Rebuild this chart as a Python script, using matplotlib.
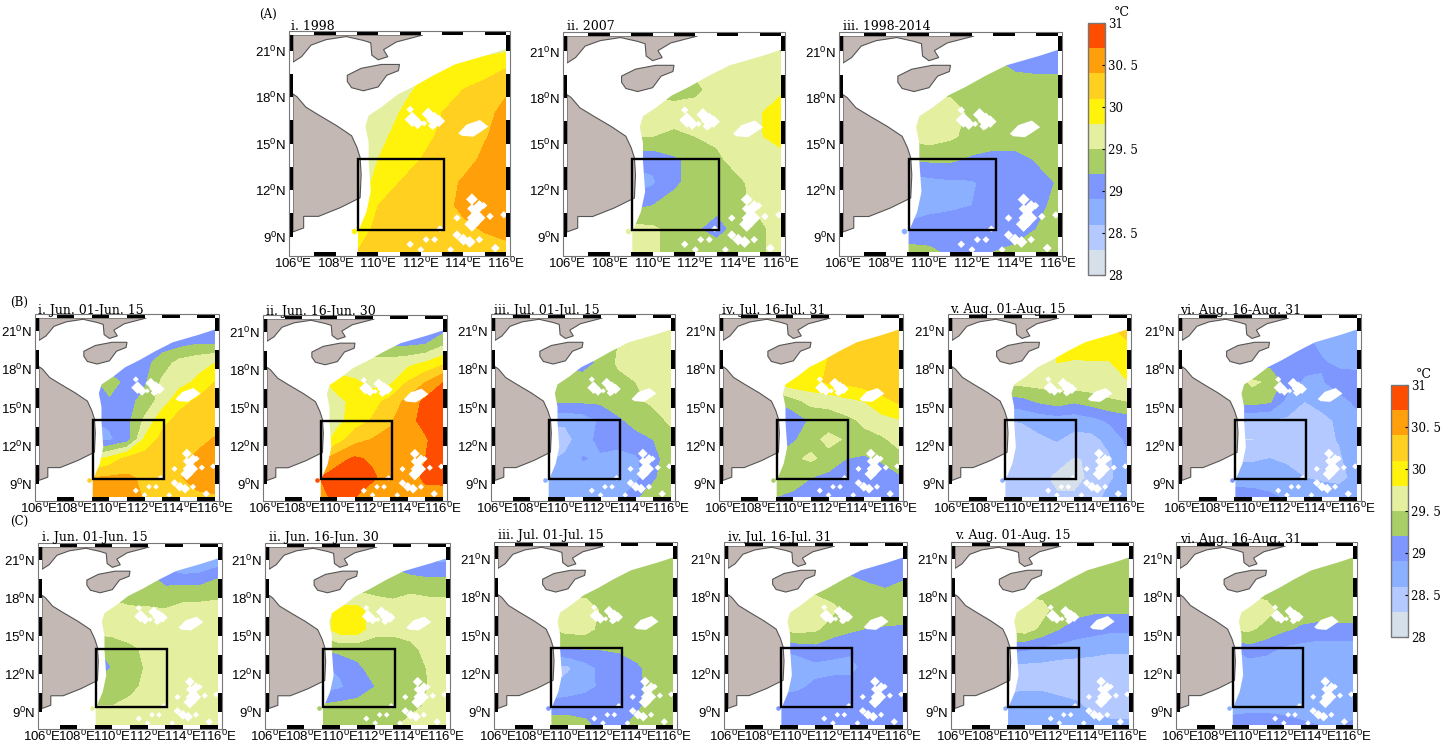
import numpy as np
import matplotlib
matplotlib.use("Agg")
import matplotlib.pyplot as plt
from matplotlib.colors import ListedColormap, BoundaryNorm
from matplotlib.cm import ScalarMappable
from matplotlib.patches import Polygon, Rectangle

W, H = 1451, 744

# sst grid, rows run north to south
grid_lon = [109, 110, 111, 112, 113, 114, 115, 116]
grid_lat = [21.5, 20, 18.5, 17, 15.5, 14, 12.5, 11, 9.5, 8]

sst_a1 = [[29.5, 29.5, 29.5, 29.5, 29.5, 29.55, 29.6, 29.6],
          [29.5, 29.6, 29.65, 29.7, 29.8, 29.85, 29.95, 30.07],
          [29.5, 29.6, 29.7, 29.85, 29.95, 30.1, 30.2, 30.35],
          [29.6, 29.65, 29.8, 29.95, 30.1, 30.2, 30.3, 30.5],
          [29.55, 29.7, 29.9, 30.0, 30.15, 30.25, 30.38, 30.5],
          [29.6, 29.8, 29.95, 30.1, 30.2, 30.3, 30.45, 30.55],
          [29.6, 29.9, 30.1, 30.2, 30.3, 30.43, 30.55, 30.6],
          [29.85, 30.1, 30.2, 30.25, 30.33, 30.45, 30.55, 30.55],
          [30.0, 30.15, 30.2, 30.25, 30.3, 30.35, 30.42, 30.5],
          [30.1, 30.2, 30.25, 30.25, 30.25, 30.25, 30.3, 30.3]]
sst_a2 = [[29.6, 29.6, 29.6, 29.6, 29.6, 29.6, 29.6, 29.4],
          [29.55, 29.55, 29.5, 29.55, 29.6, 29.65, 29.65, 29.65],
          [29.55, 29.45, 29.4, 29.45, 29.58, 29.65, 29.7, 29.75],
          [29.6, 29.6, 29.6, 29.6, 29.65, 29.7, 29.78, 29.95],
          [29.5, 29.5, 29.45, 29.5, 29.55, 29.65, 29.78, 29.9],
          [29.0, 29.0, 29.15, 29.3, 29.45, 29.6, 29.7, 29.7],
          [28.7, 28.85, 29.15, 29.3, 29.35, 29.45, 29.6, 29.65],
          [29.1, 29.2, 29.3, 29.3, 29.3, 29.45, 29.55, 29.6],
          [29.6, 29.55, 29.4, 29.25, 29.05, 29.35, 29.45, 29.6],
          [29.6, 29.55, 29.4, 29.35, 29.4, 29.4, 29.45, 29.6]]
sst_a3 = [[29.2, 29.2, 29.2, 29.2, 29.15, 29.1, 29.05, 29.05],
          [29.35, 29.35, 29.3, 29.3, 29.25, 29.17, 29.15, 29.15],
          [29.45, 29.45, 29.45, 29.4, 29.35, 29.3, 29.3, 29.3],
          [29.55, 29.7, 29.6, 29.45, 29.4, 29.4, 29.4, 29.4],
          [29.55, 29.65, 29.55, 29.4, 29.35, 29.35, 29.35, 29.35],
          [29.25, 29.25, 29.25, 29.15, 29.1, 29.1, 29.22, 29.3],
          [28.7, 28.8, 28.85, 28.87, 29.0, 29.05, 29.1, 29.22],
          [28.7, 28.8, 28.85, 28.9, 29.05, 29.05, 29.1, 29.3],
          [29.0, 29.05, 29.05, 29.1, 29.1, 29.1, 29.2, 29.35],
          [29.3, 29.25, 29.15, 29.1, 29.2, 29.25, 29.35, 29.4]]
sst_b1 = [[29.0, 29.0, 29.0, 29.0, 29.0, 29.0, 29.0, 29.0],
          [29.05, 29.05, 29.05, 29.05, 29.05, 29.1, 29.18, 29.18],
          [29.0, 29.0, 29.05, 29.1, 29.35, 29.6, 29.7, 29.8],
          [29.1, 29.35, 29.1, 29.15, 29.55, 29.7, 29.85, 30.1],
          [29.05, 29.15, 29.1, 29.3, 29.65, 30.0, 30.15, 30.25],
          [28.9, 28.95, 29.1, 29.55, 30.0, 30.2, 30.25, 30.3],
          [28.8, 28.85, 29.05, 29.85, 30.2, 30.28, 30.33, 30.42],
          [29.7, 29.9, 30.2, 30.25, 30.28, 30.33, 30.45, 30.5],
          [30.4, 30.45, 30.45, 30.35, 30.3, 30.38, 30.5, 30.5],
          [30.5, 30.5, 30.5, 30.38, 30.3, 30.3, 30.35, 30.38]]
sst_b2 = [[29.1, 29.1, 29.1, 29.1, 29.1, 29.05, 29.0, 29.0],
          [29.3, 29.3, 29.3, 29.3, 29.15, 29.15, 29.2, 29.45],
          [29.6, 29.6, 29.6, 29.6, 29.65, 29.72, 29.85, 30.05],
          [29.7, 29.95, 29.85, 29.7, 29.75, 30.13, 30.4, 30.7],
          [29.65, 29.7, 29.9, 30.0, 30.2, 30.5, 30.78, 30.85],
          [29.6, 29.7, 29.95, 30.13, 30.35, 30.65, 30.75, 30.85],
          [29.6, 29.95, 30.3, 30.42, 30.5, 30.55, 30.68, 30.8],
          [30.3, 30.6, 30.75, 30.65, 30.45, 30.55, 30.7, 30.8],
          [30.7, 30.85, 30.9, 30.75, 30.55, 30.5, 30.78, 30.82],
          [30.65, 30.75, 30.7, 30.5, 30.45, 30.45, 30.55, 30.5]]
sst_b3 = [[29.4, 29.4, 29.4, 29.45, 29.5, 29.55, 29.6, 29.65],
          [29.25, 29.25, 29.25, 29.3, 29.5, 29.6, 29.65, 29.7],
          [29.15, 29.15, 29.1, 29.25, 29.55, 29.6, 29.65, 29.7],
          [29.25, 29.3, 29.3, 29.35, 29.4, 29.5, 29.6, 29.65],
          [29.22, 29.25, 29.25, 29.25, 29.35, 29.45, 29.55, 29.6],
          [28.65, 28.65, 28.72, 28.95, 29.15, 29.3, 29.4, 29.55],
          [28.45, 28.5, 28.75, 29.0, 29.05, 29.1, 29.2, 29.4],
          [28.55, 28.65, 28.92, 28.85, 28.75, 28.85, 29.1, 29.35],
          [28.65, 28.7, 28.72, 28.75, 28.75, 28.8, 29.15, 29.4],
          [28.7, 28.72, 28.75, 28.75, 28.8, 29.15, 29.35, 29.4]]
sst_b4 = [[29.9, 30.0, 30.05, 30.15, 30.25, 30.3, 30.3, 30.3],
          [29.65, 29.7, 29.8, 30.1, 30.2, 30.3, 30.35, 30.35],
          [29.6, 29.65, 29.8, 30.13, 30.3, 30.35, 30.35, 30.35],
          [29.85, 30.0, 30.0, 30.15, 30.17, 30.25, 30.3, 30.3],
          [29.2, 29.4, 29.6, 29.6, 29.72, 29.8, 30.0, 30.15],
          [28.8, 29.0, 29.25, 29.35, 29.42, 29.55, 29.7, 29.78],
          [28.9, 29.15, 29.4, 29.58, 29.47, 29.42, 29.45, 29.6],
          [29.25, 29.45, 29.55, 29.4, 29.2, 29.15, 29.25, 29.4],
          [29.3, 29.3, 29.2, 29.1, 29.05, 29.0, 29.0, 29.15],
          [29.2, 29.15, 29.05, 29.05, 28.95, 28.9, 29.0, 29.1]]
sst_b5 = [[29.65, 29.65, 29.7, 29.8, 29.9, 30.0, 30.1, 30.3],
          [29.65, 29.65, 29.7, 29.82, 29.9, 29.95, 30.0, 30.05],
          [29.6, 29.6, 29.65, 29.8, 29.78, 29.78, 29.78, 29.95],
          [29.6, 29.6, 29.62, 29.65, 29.68, 29.68, 29.72, 29.78],
          [29.05, 29.1, 29.25, 29.35, 29.25, 29.35, 29.45, 29.5],
          [28.6, 28.62, 28.7, 28.75, 28.72, 28.8, 28.95, 29.05],
          [28.4, 28.45, 28.55, 28.62, 28.5, 28.5, 28.7, 28.95],
          [28.45, 28.45, 28.45, 28.38, 28.28, 28.33, 28.55, 28.85],
          [28.5, 28.5, 28.35, 28.25, 28.22, 28.35, 28.55, 28.75],
          [28.5, 28.45, 28.4, 28.32, 28.33, 28.45, 28.7, 28.8]]
sst_b6 = [[28.8, 28.8, 28.8, 28.85, 28.75, 28.75, 28.75, 28.7],
          [29.0, 29.0, 28.95, 28.95, 28.95, 28.85, 28.75, 28.75],
          [29.05, 29.1, 29.1, 29.05, 29.0, 28.92, 28.85, 28.8],
          [29.35, 29.55, 29.45, 29.05, 28.85, 28.88, 29.0, 29.05],
          [29.25, 29.35, 29.25, 28.8, 28.6, 28.7, 28.82, 28.95],
          [28.7, 28.58, 28.6, 28.55, 28.48, 28.52, 28.65, 28.82],
          [28.3, 28.28, 28.5, 28.5, 28.48, 28.5, 28.62, 28.9],
          [28.55, 28.55, 28.6, 28.55, 28.5, 28.5, 28.55, 28.8],
          [28.85, 28.78, 28.75, 28.7, 28.6, 28.55, 28.52, 28.68],
          [28.95, 29.0, 28.95, 28.85, 28.8, 28.78, 28.75, 28.75]]
sst_c1 = [[29.0, 29.0, 29.0, 29.0, 28.95, 28.9, 28.6, 28.35],
          [29.25, 29.25, 29.25, 29.2, 28.95, 28.85, 28.88, 29.1],
          [29.4, 29.4, 29.2, 29.3, 29.3, 29.35, 29.35, 29.4],
          [29.6, 29.6, 29.6, 29.55, 29.52, 29.6, 29.62, 29.62],
          [29.62, 29.62, 29.62, 29.62, 29.65, 29.65, 29.65, 29.65],
          [29.15, 29.3, 29.45, 29.55, 29.6, 29.62, 29.62, 29.62],
          [28.95, 29.22, 29.4, 29.53, 29.62, 29.62, 29.62, 29.62],
          [29.25, 29.4, 29.45, 29.55, 29.62, 29.62, 29.62, 29.62],
          [29.5, 29.5, 29.55, 29.6, 29.62, 29.62, 29.62, 29.62],
          [29.6, 29.6, 29.6, 29.6, 29.6, 29.6, 29.6, 29.6]]
sst_c2 = [[29.0, 29.0, 29.0, 28.95, 28.95, 28.85, 28.75, 28.7],
          [29.35, 29.35, 29.35, 29.3, 29.25, 29.15, 29.1, 29.12],
          [29.6, 29.55, 29.5, 29.45, 29.42, 29.48, 29.45, 29.45],
          [29.65, 29.9, 29.9, 29.65, 29.62, 29.62, 29.62, 29.62],
          [29.65, 29.95, 29.95, 29.62, 29.6, 29.62, 29.62, 29.62],
          [29.22, 29.3, 29.3, 29.3, 29.3, 29.42, 29.6, 29.62],
          [28.85, 28.95, 29.15, 29.3, 29.3, 29.35, 29.52, 29.62],
          [28.75, 28.85, 29.05, 29.2, 29.3, 29.35, 29.5, 29.62],
          [29.25, 29.3, 29.3, 29.3, 29.3, 29.4, 29.55, 29.62],
          [29.35, 29.35, 29.35, 29.35, 29.45, 29.6, 29.62, 29.62]]
sst_c3 = [[29.35, 29.35, 29.35, 29.35, 29.35, 29.35, 29.35, 29.35],
          [29.35, 29.35, 29.35, 29.35, 29.35, 29.35, 29.35, 29.35],
          [29.4, 29.4, 29.4, 29.35, 29.35, 29.35, 29.35, 29.35],
          [29.55, 29.65, 29.65, 29.45, 29.35, 29.35, 29.35, 29.35],
          [29.5, 29.6, 29.6, 29.4, 29.3, 29.3, 29.3, 29.3],
          [29.15, 29.2, 29.22, 29.22, 29.25, 29.3, 29.35, 29.35],
          [28.55, 28.55, 28.78, 29.0, 29.05, 29.17, 29.3, 29.35],
          [28.6, 28.72, 28.82, 28.95, 29.05, 29.15, 29.3, 29.4],
          [29.05, 29.05, 29.05, 29.05, 29.05, 29.15, 29.35, 29.4],
          [29.35, 29.35, 29.27, 29.05, 29.15, 29.3, 29.35, 29.4]]
sst_c4 = [[29.1, 29.1, 29.1, 29.1, 29.1, 29.05, 29.0, 29.0],
          [29.4, 29.4, 29.4, 29.35, 29.15, 29.05, 29.05, 29.1],
          [29.45, 29.45, 29.45, 29.4, 29.35, 29.3, 29.22, 29.3],
          [29.55, 29.65, 29.65, 29.55, 29.4, 29.35, 29.35, 29.35],
          [29.55, 29.6, 29.55, 29.35, 29.25, 29.18, 29.17, 29.15],
          [28.95, 29.05, 29.1, 29.0, 28.95, 29.05, 29.05, 29.05],
          [28.55, 28.65, 28.82, 28.82, 28.82, 29.0, 29.05, 29.05],
          [28.8, 28.85, 28.95, 29.0, 29.0, 29.05, 29.05, 29.05],
          [29.05, 29.05, 29.05, 29.05, 29.05, 29.05, 29.05, 29.05],
          [29.05, 29.05, 29.05, 29.05, 29.05, 29.05, 29.05, 29.05]]
sst_c5 = [[29.4, 29.4, 29.4, 29.4, 29.35, 29.35, 29.3, 29.1],
          [29.35, 29.35, 29.35, 29.35, 29.35, 29.35, 29.35, 29.35],
          [29.4, 29.4, 29.4, 29.4, 29.4, 29.4, 29.4, 29.4],
          [29.55, 29.65, 29.6, 29.35, 29.3, 29.25, 29.25, 29.25],
          [29.55, 29.65, 29.42, 29.2, 29.05, 29.0, 28.95, 28.95],
          [29.0, 28.95, 28.85, 28.8, 28.75, 28.7, 28.65, 28.65],
          [28.55, 28.5, 28.5, 28.45, 28.45, 28.45, 28.45, 28.45],
          [28.55, 28.55, 28.55, 28.5, 28.45, 28.45, 28.45, 28.45],
          [28.7, 28.75, 28.75, 28.7, 28.65, 28.5, 28.48, 28.48],
          [28.75, 28.8, 28.75, 28.75, 28.75, 28.7, 28.65, 28.65]]
sst_c6 = [[29.35, 29.35, 29.35, 29.35, 29.35, 29.35, 29.35, 29.35],
          [29.4, 29.4, 29.4, 29.4, 29.4, 29.4, 29.4, 29.4],
          [29.4, 29.4, 29.4, 29.4, 29.4, 29.4, 29.4, 29.4],
          [29.6, 29.65, 29.6, 29.4, 29.35, 29.35, 29.35, 29.35],
          [29.55, 29.55, 29.4, 29.25, 29.15, 29.1, 29.12, 29.12],
          [28.9, 29.1, 29.0, 28.85, 28.8, 28.75, 28.75, 28.75],
          [28.6, 28.7, 28.72, 28.75, 28.75, 28.75, 28.75, 28.75],
          [28.7, 28.75, 28.75, 28.75, 28.75, 28.75, 28.75, 28.75],
          [28.8, 28.8, 28.8, 28.8, 28.75, 28.75, 28.75, 28.75],
          [29.0, 29.05, 29.05, 29.0, 28.95, 28.9, 28.85, 28.95]]

# map outlines
land_indochina = [(106, 18.2), (106.2, 18.0), (106.6, 17.35), (107.25, 16.8), (108.05, 16.15),
                  (108.75, 15.5), (109, 14.75), (109.15, 14.1), (109.2, 13.0), (109.15, 11.5),
                  (108.2, 10.85), (107.2, 10.3), (106.5, 10.3), (106.5, 9.55), (106, 9.3)]
land_china = [(106, 22), (106, 20.25), (106.4, 20.6), (106.85, 21.35), (107.55, 21.7), (108.5, 21.9),
              (109.3, 21.65), (109.65, 21.5), (109.7, 20.7), (110, 20.4), (110.45, 20.6),
              (110.25, 21.05), (110.85, 21.55), (112.1, 22)]
land_hainan = [(108.55, 19.4), (109.2, 19.85), (110.15, 20.1), (111, 20.1), (110.95, 19.7),
               (110.4, 19.4), (110, 18.65), (109.3, 18.4), (108.75, 18.6), (108.55, 19)]
no_data = [(106, 22), (116, 22), (116, 21.1), (115.1, 20.7), (113.6, 20.1), (112.6, 19.4), (111.7, 18.7),
           (110.9, 18.15), (110.2, 17.4), (109.55, 16.8), (109.4, 16.1), (109.55, 15.06), (109.55, 13.9),
           (109.65, 11.9), (109.45, 10.6), (109.05, 9.3), (109.05, 8), (106, 8)]
big_shoal = [(113.76, 15.66), (114.15, 16.22), (114.78, 16.52), (115.17, 16.09),
             (114.78, 15.72), (114.46, 15.44), (113.92, 15.5)]
shoal_lon = [111.5, 111.6, 111.85, 112.35, 112.65, 112.85, 112.15, 112.55, 114.4, 114.75, 114.4, 114.6, 114.4,
             114.95, 113.7, 115.25, 115.9, 113.7, 114.0, 114.3, 114.75, 111.5, 112.25, 112.65, 112.0,
             113.4, 115.5, 112.9]
shoal_lat = [17.2, 16.55, 16.3, 16.9, 16.5, 16.45, 16.3, 16.15, 11.4, 10.95, 10.8, 10.2, 9.8,
             11.0, 10.2, 10.3, 10.4, 9.1, 8.8, 8.65, 8.8, 8.5, 8.8, 8.8, 8.15,
             8.15, 8.25, 9.5]
shoal_size = [14, 60, 36, 44, 70, 40, 10, 20, 36, 40, 24, 90, 60,
              14, 14, 14, 14, 22, 36, 36, 14, 14, 12, 12, 12,
              12, 20, 12]

# colour bands of the scale
levels = [28, 28.3, 28.6, 28.9, 29.2, 29.5, 29.8, 30.1, 30.4, 30.7, 31]
colors = ["#d5e0ea", "#b3c9ff", "#8bb0ff", "#7d97ff", "#aace66",
          "#e4f0a0", "#fff30b", "#ffd020", "#ff9f0a", "#ff4d00"]
cbar_ticks = [28, 28.5, 29, 29.5, 30, 30.5, 31]
cbar_labels = ["28", "28. 5", "29", "29. 5", "30", "30. 5", "31"]

titles = ["i. 1998", "ii. 2007", "iii. 1998-2014",
          "i. Jun. 01-Jun. 15", "ii. Jun. 16-Jun. 30", "iii. Jul. 01-Jul. 15",
          "iv. Jul. 16-Jul. 31", "v. Aug. 01-Aug. 15", "vi. Aug. 16-Aug. 31",
          "i. Jun. 01-Jun. 15", "ii. Jun. 16-Jun. 30", "iii. Jul. 01-Jul. 15",
          "iv. Jul. 16-Jul. 31", "v. Aug. 01-Aug. 15", "vi. Aug. 16-Aug. 31"]
fields = [sst_a1, sst_a2, sst_a3, sst_b1, sst_b2, sst_b3, sst_b4, sst_b5, sst_b6,
          sst_c1, sst_c2, sst_c3, sst_c4, sst_c5, sst_c6]
spot_vals = [29.95, 29.65, 28.75, 30.25, 30.85, 28.75, 29.35, 28.75, 29.05,
             29.65, 29.35, 29.05, 29.05, 28.75, 28.75]

# map area in pixels: left, top, right, bottom
panels = [(293, 35, 506, 252), (567, 36, 781, 252), (843, 36, 1058, 252),
          (39, 318, 215, 497), (267, 319, 443, 497), (495, 318, 671, 497),
          (723, 318, 899, 497), (952, 318, 1127, 497), (1182, 318, 1357, 497),
          (42, 547, 218, 725), (269, 547, 446, 725), (498, 546, 673, 725),
          (728, 546, 903, 725), (955, 546, 1129, 725), (1180, 546, 1353, 725)]
title_pos = [(291, 27), (567, 27), (843, 27),
             (38, 310), (266, 311), (494, 310), (722, 310), (950, 309), (1180, 310),
             (42, 538), (269, 538), (498, 536), (728, 538), (955, 535), (1180, 539)]

plt.rcParams["mathtext.fontset"] = "custom"
plt.rcParams["mathtext.rm"] = "Liberation Sans"
plt.rcParams["font.family"] = "Liberation Sans"

cmap = ListedColormap(colors)
norm = BoundaryNorm(levels, cmap.N)


def px_axes(fig, left, top, right, bottom):
    return fig.add_axes([left / W, 1 - bottom / H, (right - left) / W, (bottom - top) / H])


def zebra(ax, dx, dy):
    # black and white band round the map
    for i, x in enumerate(range(106, 116)):
        col = "k" if i % 2 == 1 else "w"
        ax.add_patch(Rectangle((x, 22), 1, dy, fc=col, ec="none", clip_on=False, zorder=6))
        ax.add_patch(Rectangle((x, 8 - dy), 1, dy, fc=col, ec="none", clip_on=False, zorder=6))
    edges = [8, 9, 10.5, 12, 13.5, 15, 16.5, 18, 19.5, 21, 22]
    for i in range(len(edges) - 1):
        col = "k" if i % 2 == 1 else "w"
        for x in (106 - dx, 116):
            ax.add_patch(Rectangle((x, edges[i]), dx, edges[i + 1] - edges[i], fc=col, ec="none",
                                   clip_on=False, zorder=6))
    ax.add_patch(Rectangle((106 - dx, 8 - dy), 10 + 2 * dx, 14 + 2 * dy, fc="none", ec="#777777",
                           lw=0.8, clip_on=False, zorder=7))


def draw_map(fig, box, field, spot, title, tpos):
    ax = px_axes(fig, *box)
    ax.set_xlim(106, 116)
    ax.set_ylim(8, 22)
    for s in ax.spines.values():
        s.set_visible(False)
    scale = ((box[2] - box[0]) / 213) ** 2
    lat = grid_lat[::-1]
    z = np.array(field)[::-1]
    ax.contourf(grid_lon, lat, z, levels=levels, colors=colors, zorder=1)
    ax.add_patch(Polygon(no_data, fc="w", ec="none", zorder=2))
    ax.scatter([108.85], [9.35], c=[spot], cmap=cmap, norm=norm, s=16 * scale, marker="o", lw=0, zorder=3)
    for poly in (land_indochina, land_china, land_hainan):
        ax.add_patch(Polygon(poly, fc="#c4b8b4", ec="#555555", lw=0.8, zorder=3))
    ax.add_patch(Polygon(big_shoal, fc="w", ec="none", zorder=3))
    ax.scatter(shoal_lon, shoal_lat, s=np.array(shoal_size) * scale, c="w", marker="D", lw=0, zorder=3)
    ax.add_patch(Rectangle((109.05, 9.4), 4.05, 4.6, fc="none", ec="k", lw=1.7, zorder=5))
    zebra(ax, 4 * 10 / (box[2] - box[0]), 4 * 14 / (box[3] - box[1]))
    ax.set_xticks(range(106, 117, 2))
    ax.set_xticklabels([r"$\mathregular{%d^{0}E}$" % v for v in range(106, 117, 2)], fontsize=9.5)
    ax.set_yticks(range(9, 22, 3))
    ax.set_yticklabels([r"$\mathregular{%d^{0}N}$" % v for v in range(9, 22, 3)], fontsize=9.5)
    ax.tick_params(axis="x", length=0, pad=3)
    ax.tick_params(axis="y", length=0, pad=5)
    fig.text(tpos[0] / W, 1 - tpos[1] / H, title, fontsize=9, family="DejaVu Serif", va="center", ha="left")
    return ax


def draw_cbar(fig, box, unit_pos):
    cax = px_axes(fig, *box)
    cb = fig.colorbar(ScalarMappable(norm=norm, cmap=cmap), cax=cax, ticks=cbar_ticks, spacing="proportional")
    cb.ax.set_yticklabels(cbar_labels, fontsize=8.5, family="DejaVu Serif")
    cb.ax.tick_params(direction="in", length=2, pad=2, width=0.8)
    cb.ax.minorticks_off()
    cb.outline.set_edgecolor("#777777")
    cb.outline.set_linewidth(1.0)
    fig.text(unit_pos[0] / W, 1 - unit_pos[1] / H, "°C", fontsize=9, family="DejaVu Serif", va="center")


fig = plt.figure(figsize=(W / 100, H / 100), dpi=100)

for box, field, spot, title, tpos in zip(panels, fields, spot_vals, titles, title_pos):
    draw_map(fig, box, field, spot, title, tpos)

draw_cbar(fig, (1088, 23, 1105, 275), (1114, 13))
draw_cbar(fig, (1391, 385, 1408, 637), (1416, 375))

fig.text(259 / W, 1 - 14 / H, "(A)", fontsize=8.5, family="DejaVu Serif", va="center")
fig.text(10 / W, 1 - 302 / H, "(B)", fontsize=8.5, family="DejaVu Serif", va="center")
fig.text(10 / W, 1 - 521 / H, "(C)", fontsize=8.5, family="DejaVu Serif", va="center")

fig.savefig("out.png", dpi=100)
